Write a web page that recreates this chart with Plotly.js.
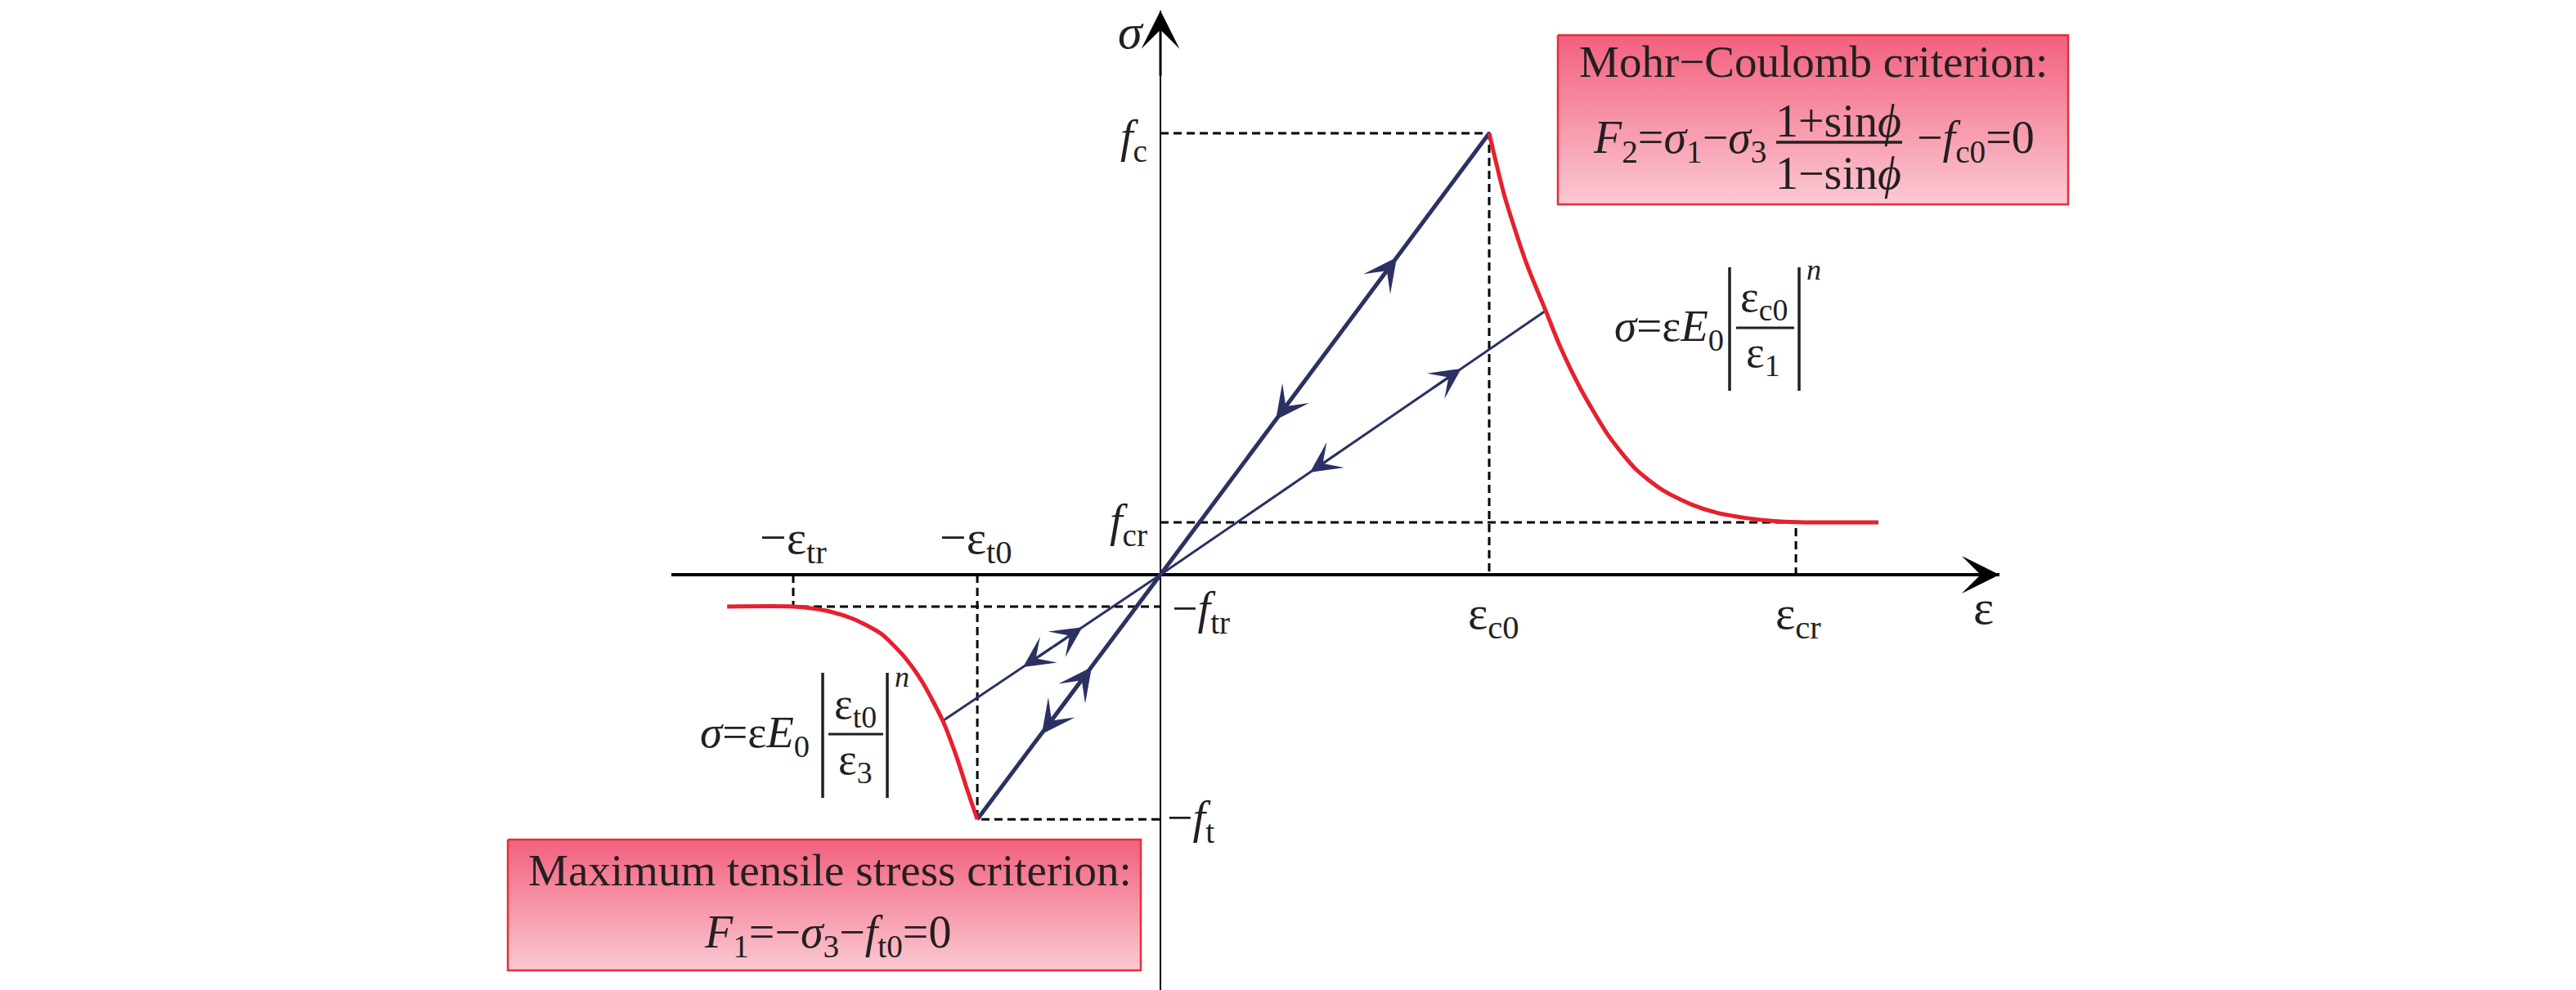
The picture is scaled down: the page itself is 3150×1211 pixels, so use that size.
<!DOCTYPE html>
<html><head><meta charset="utf-8">
<script src="https://cdn.plot.ly/plotly-3.0.1.min.js"></script>
<style>html,body{margin:0;padding:0;background:#fff}#chart{width:3150px;height:1211px}</style>
</head><body><div id="chart"></div>
<script>
// ---- characteristic values (normalised: eps_c0 = 1, f_c = 1) ----
const epsC0 = 1.0, fC = 1.0;
const epsCr = 1.933, fCr = 0.1185;
const epsT0 = -0.557, fT = -0.554;
const epsTr = -1.117, fTr = -0.0722;

// ---- compression softening branch (red) ----
const compEps = [1.0, 1.047, 1.114, 1.172, 1.214, 1.279, 1.363, 1.445, 1.527, 1.612, 1.694, 1.776, 1.861, 1.943, 2.184];
const compSig = [1.0, 0.857, 0.704, 0.598, 0.520, 0.420, 0.315, 0.240, 0.192, 0.160, 0.140, 0.129, 0.122, 0.1190, 0.1185];
// ---- tension softening branch (red) ----
const tensEps = [-0.557, -0.587, -0.619, -0.662, -0.726, -0.786, -0.851, -0.935, -1.017, -1.117, -1.318];
const tensSig = [-0.554, -0.489, -0.415, -0.331, -0.241, -0.180, -0.133, -0.100, -0.0815, -0.0722, -0.0722];

// ---- elastic line and unloading / reloading lines (navy) ----
const elasticEps = [epsT0, 0, epsC0];
const elasticSig = [fT, 0, fC];
const unloadCEps = [0, 1.172], unloadCSig = [0, 0.598];
const unloadTEps = [0, -0.662], unloadTSig = [0, -0.331];

// ---- arrow heads: strain at the head, direction (+1 away from origin, -1 toward) ----
const arrowElastic = [[0.719, 1], [0.351, -1], [-0.209, -1], [-0.361, 1]];
const arrowUnloadC = [[0.915, 1], [0.455, -1]];
const arrowUnloadT = [[-0.2375, -1], [-0.418, 1]];

// ---- labels ----
const xLabels = ['ε<sub>c0</sub>', 'ε<sub>cr</sub>', '−ε<sub>tr</sub>', '−ε<sub>t0</sub>'];
const yLabels = ['<i>f</i><sub>c</sub>', '<i>f</i><sub>cr</sub>', '−<i>f</i><sub>tr</sub>', '−<i>f</i><sub>t</sub>'];

// ================= layout geometry =================
const W = 3150, H = 1211;
const xRange = [-1.4876, 2.5522], yRange = [-0.9407, 1.2778];
const FONT = 'Liberation Serif, Times New Roman, serif';
const INK = '#231f20', NAVY = '#2b3163', RED = '#e6202e';
const DASH = '10px,6px';

const traces = [];
function line(x, y, color, width, dash, shape) {
  traces.push({x, y, mode: 'lines', type: 'scatter', hoverinfo: 'skip', showlegend: false,
    line: {color, width, dash: dash || 'solid', shape: shape || 'linear', smoothing: 0.7}, xaxis: 'x', yaxis: 'y'});
}
// dashed guide lines
line([0, epsC0, epsC0], [fC, fC, 0], '#000', 3, DASH);
line([0, epsCr, epsCr], [fCr, fCr, 0], '#000', 3, DASH);
line([epsTr, epsTr, 0], [0, fTr, fTr], '#000', 3, DASH);
line([epsT0, epsT0, 0], [0, fT, fT], '#000', 3, DASH);
// curves
line(elasticEps, elasticSig, NAVY, 5);
line(unloadCEps, unloadCSig, NAVY, 3);
line(unloadTEps, unloadTSig, NAVY, 3);
line(compEps, compSig, RED, 5, null, 'spline');
line(tensEps, tensSig, RED, 5, null, 'spline');

// callout boxes (decorative, on a full-page pixel axis)
function box(x0, x1, y0, y1) {
  traces.push({x: [x0, x1, x1, x0, x0], y: [y0, y0, y1, y1, y0], mode: 'lines', type: 'scatter',
    fill: 'toself', hoverinfo: 'skip', showlegend: false, xaxis: 'x2', yaxis: 'y2',
    fillgradient: {type: 'vertical', start: y0, stop: y1, colorscale: [[0, '#f2607d'], [1, '#fbc9d3']]},
    line: {color: '#e3303b', width: 2.5}});
}
box(1905, 2529, 43, 250);
box(621, 1395, 1027, 1187);

const ann = [];
const shapes = [];
function arrowOn(list, sx, sy, width, size) {
  const slope = sy / sx;
  list.forEach(([e, dir]) => {
    const tailX = e - Math.sign(e) * dir * 0.09;
    ann.push({x: e, y: slope * e, ax: tailX, ay: slope * tailX,
      xref: 'x', yref: 'y', axref: 'x', ayref: 'y', text: '', showarrow: true,
      arrowhead: 3, arrowsize: size, arrowwidth: width, arrowcolor: NAVY, standoff: 0});
  });
}
arrowOn(arrowElastic, epsC0, fC, 4, 1.7);
arrowOn(arrowUnloadC, unloadCEps[1], unloadCSig[1], 3, 2.1);
arrowOn(arrowUnloadT, unloadTEps[1], unloadTSig[1], 3, 2.1);

// axis arrow heads
ann.push({x: xRange[1], y: 0, ax: xRange[1] - 0.15, ay: 0, xref: 'x', yref: 'y', axref: 'x', ayref: 'y',
  text: '', showarrow: true, arrowhead: 3, arrowsize: 2.2, arrowwidth: 3.5, arrowcolor: '#000', standoff: 0});
ann.push({x: 0, y: yRange[1], ax: 0, ay: yRange[1] - 0.15, xref: 'x', yref: 'y', axref: 'x', ayref: 'y',
  text: '', showarrow: true, arrowhead: 3, arrowsize: 2.6, arrowwidth: 3, arrowcolor: '#000', standoff: 0});

function lab(x, y, text, xanchor, xshift, yshift, size) {
  ann.push({x, y, xref: 'x', yref: 'y', text, showarrow: false, xanchor, yanchor: 'middle',
    xshift, yshift, font: {family: FONT, size: size || 56, color: INK}});
}
lab(epsC0, 0, xLabels[0], 'center', 5, -50, 58);
lab(epsCr, 0, xLabels[1], 'center', 3, -50, 58);
lab(epsTr, 0, xLabels[2], 'center', 0, 42, 58);
lab(epsT0, 0, xLabels[3], 'center', -2, 42, 58);
lab(0, fC, yLabels[0], 'right', -14, -8);
lab(0, fCr, yLabels[1], 'right', -14, -2);
lab(0, fTr, yLabels[2], 'left', 12, -6);
lab(0, fT, yLabels[3], 'left', 6, -2);
lab(xRange[1], 0, 'ε', 'center', -20, -40, 60);
lab(0, yRange[1], '<i>σ</i>', 'center', -36, -26, 60);

// text in pixel coordinates
function txt(x, y, text, size, xanchor) {
  ann.push({x, y, xref: 'x2', yref: 'y2', text, showarrow: false, xanchor: xanchor || 'center',
    yanchor: 'middle', font: {family: FONT, size, color: INK}});
}
function seg(x0, y0, x1, y1, w) {
  shapes.push({type: 'line', xref: 'x2', yref: 'y2', x0, y0, x1, y1, line: {color: INK, width: w}, layer: 'above'});
}
// compression law
txt(1972, 402, '<i>σ</i>=ε<i>E</i><sub>0</sub>', 55, 'left');
txt(2157, 366, 'ε<sub>c0</sub>', 54);
txt(2156, 434, 'ε<sub>1</sub>', 54);
txt(2218, 330, '<i>n</i>', 36);
seg(2115, 327, 2115, 478, 3.5); seg(2200, 327, 2200, 478, 3.5); seg(2123, 401, 2194, 401, 3);
// tension law
txt(854, 899, '<i>σ</i>=ε<i>E</i><sub>0</sub>', 55, 'left');
txt(1046, 864, 'ε<sub>t0</sub>', 54);
txt(1046, 932, 'ε<sub>3</sub>', 54);
txt(1103, 828, '<i>n</i>', 36);
seg(1006, 823, 1006, 976, 3.5); seg(1085, 823, 1085, 976, 3.5); seg(1013, 898, 1080, 898, 3);
// Mohr-Coulomb box
txt(2217, 75, 'Mohr−Coulomb criterion:', 55);
txt(1946, 172, '<i>F</i><sub>2</sub>=<i>σ</i><sub>1</sub>−<i>σ</i><sub>3</sub>', 56, 'left');
txt(2248, 148, '1+sin<i>ϕ</i>', 56);
txt(2248, 212, '1−sin<i>ϕ</i>', 56);
txt(2342, 172, '−<i>f</i><sub>c0</sub>=0', 56, 'left');
seg(2172, 174, 2326, 174, 3.5);
// tensile box
txt(1015, 1064, 'Maximum tensile stress criterion:', 55);
txt(1012, 1144, '<i>F</i><sub>1</sub>=−<i>σ</i><sub>3</sub>−<i>f</i><sub>t0</sub>=0', 56);

const hidden = {showgrid: false, showticklabels: false, ticks: '', showline: false, fixedrange: true};
const layout = {
  width: W, height: H, margin: {l: 0, r: 0, t: 0, b: 0},
  paper_bgcolor: '#fff', plot_bgcolor: 'rgba(0,0,0,0)', showlegend: false,
  xaxis: Object.assign({domain: [821 / W, 2445 / W], range: xRange, zeroline: true, zerolinecolor: '#000', zerolinewidth: 2.5, anchor: 'y'}, hidden),
  yaxis: Object.assign({domain: [0, 1198 / H], range: yRange, zeroline: true, zerolinecolor: '#000', zerolinewidth: 3.5, anchor: 'x'}, hidden),
  xaxis2: Object.assign({domain: [0, 1], range: [0, W], zeroline: false, anchor: 'y2', visible: false}, hidden),
  yaxis2: Object.assign({domain: [0, 1], range: [H, 0], zeroline: false, anchor: 'x2', visible: false}, hidden),
  annotations: ann, shapes: shapes
};
Plotly.newPlot('chart', traces, layout, {staticPlot: true, displayModeBar: false});
</script></body></html>
